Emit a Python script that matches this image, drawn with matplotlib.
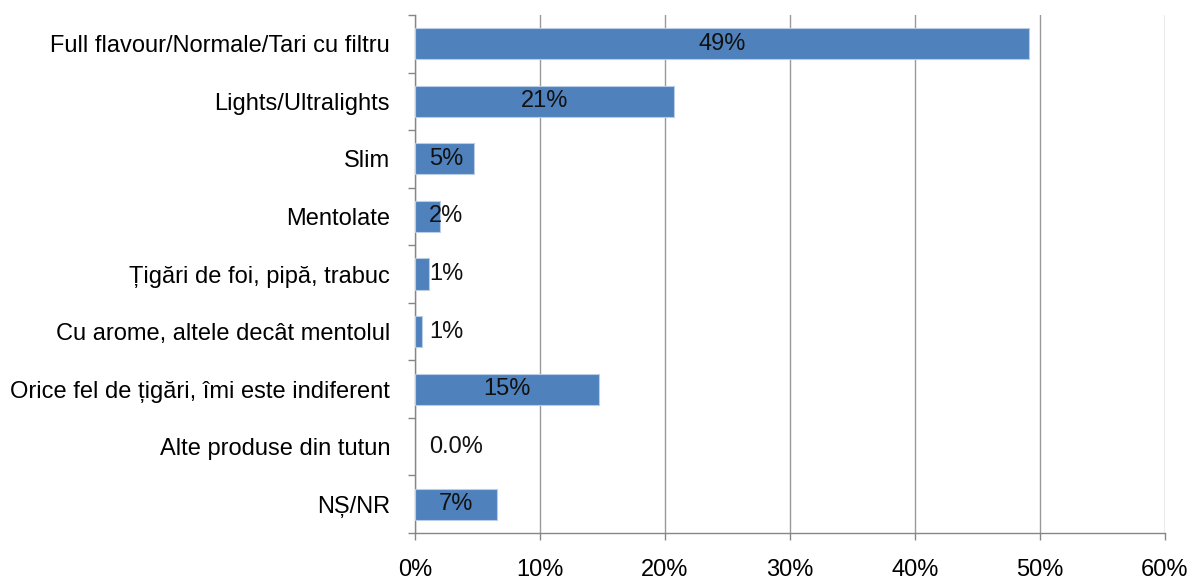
import matplotlib
matplotlib.use("Agg")
import matplotlib.pyplot as plt
import numpy as np

plt.rcParams['font.family'] = ['Liberation Sans', 'DejaVu Sans']

categories = [
    "Full flavour/Normale/Tari cu filtru",
    "Lights/Ultralights",
    "Slim",
    "Mentolate",
    "Țigări de foi, pipă, trabuc",
    "Cu arome, altele decât mentolul",
    "Orice fel de țigări, îmi este indiferent",
    "Alte produse din tutun",
    "NȘ/NR",
]
values = [49.1, 20.7, 4.7, 2.0, 1.15, 0.55, 14.75, 0.0, 6.55]
value_labels = ["49%", "21%", "5%", "2%", "1%", "1%", "15%", "0.0%", "7%"]
xticks = [0, 10, 20, 30, 40, 50, 60]

fig = plt.figure(figsize=(11.9, 5.81), dpi=100)
ax = fig.add_axes([415 / 1190, 1 - 533 / 581, 750 / 1190, 518 / 581])

y = np.arange(len(categories))
# no outline on zero-length bars
edges = [0.8 if v > 0 else 0 for v in values]
ax.barh(y, values, height=0.54, color="#4F81BD", edgecolor="#B9CDE5",
        linewidth=edges, zorder=3)

for yi, v, lab in zip(y, values, value_labels):
    if v / 2 < 2.6:
        ax.text(1.15, yi, lab, ha="left", va="center", fontsize=17,
                color="#111111", zorder=4)
    else:
        ax.text(v / 2, yi, lab, ha="center", va="center", fontsize=17,
                color="#111111", zorder=4)

ax.set_xlim(0, 60)
ax.set_ylim(len(categories) - 0.5, -0.5)
ax.set_xticks(xticks)
ax.set_xticklabels([f"{t}%" for t in xticks], fontsize=17)
ax.set_yticks(y)
ax.set_yticklabels(categories, fontsize=17)
ax.set_yticks(np.arange(-0.5, len(categories), 1), minor=True)

ax.tick_params(axis="y", which="major", length=0, pad=18)
ax.tick_params(axis="y", which="minor", length=5, color="#868686", width=1)
ax.tick_params(axis="x", which="major", length=5, color="#868686", width=1,
               pad=14)

ax.grid(axis="x", color="#999999", linewidth=1, zorder=0)
for s in ["top", "right"]:
    ax.spines[s].set_visible(False)
for s in ["left", "bottom"]:
    ax.spines[s].set_color("#868686")
    ax.spines[s].set_linewidth(1)

fig.savefig("out.png", dpi=100)
